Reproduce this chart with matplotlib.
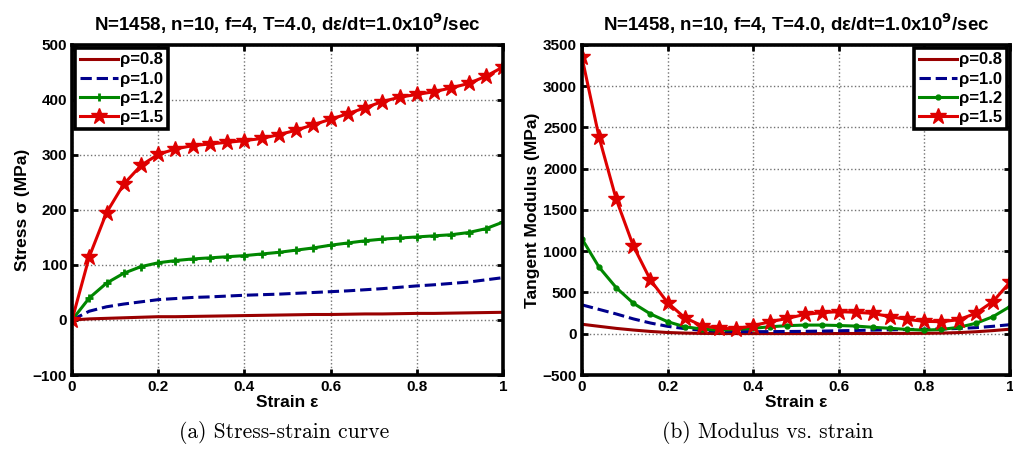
import matplotlib
matplotlib.use("Agg")
import matplotlib.pyplot as plt
import numpy as np

# strain sampled every 0.04
strain = [0.00, 0.04, 0.08, 0.12, 0.16, 0.20, 0.24, 0.28, 0.32, 0.36, 0.40, 0.44, 0.48,
          0.52, 0.56, 0.60, 0.64, 0.68, 0.72, 0.76, 0.80, 0.84, 0.88, 0.92, 0.96, 1.00]

# stress (MPa)
stress_08 = [0, 2, 3, 4, 5, 6, 6, 6.5, 7, 7.5, 8, 8.5, 9, 9.5, 10, 10, 10.5, 11, 11, 11.5,
             12, 12, 12.5, 13, 13.5, 14]
stress_10 = [0, 16, 24, 29, 33, 37, 39, 41, 42, 43.5, 45, 46, 47, 48.5, 50, 51.5, 53, 55,
             57, 59.5, 62, 64, 66.5, 69, 73, 77]
stress_12 = [0, 40, 67, 85, 97, 104, 108, 111, 113, 115, 117, 120, 123, 127, 131, 136, 140,
             144, 147, 149, 151, 153, 155, 159, 166, 178]
stress_15 = [0, 115, 195, 247, 281, 301, 311, 317, 320, 323, 326, 330, 337, 345, 355, 365,
             375, 386, 397, 405, 410, 415, 422, 430, 443, 460]

# tangent modulus (MPa)
mod_08 = [115, 90, 65, 45, 28, 15, 8, 4, 3, 2, 2, 2, 2, 2, 2, 3, 3, 3, 4, 4, 5, 8, 14, 24,
          38, 55]
mod_10 = [350, 295, 240, 180, 130, 90, 62, 42, 32, 27, 25, 26, 27, 29, 32, 36, 40, 44, 48,
          51, 55, 58, 64, 74, 90, 110]
mod_12 = [1150, 806, 559, 370, 240, 146, 85, 57, 42, 52, 66, 85, 98, 105, 105, 100, 93, 78,
          66, 52, 44, 52, 78, 126, 206, 330]
mod_15 = [3350, 2380, 1630, 1064, 652, 377, 195, 98, 66, 60, 98, 146, 186, 234, 255, 268,
          260, 247, 206, 174, 150, 146, 170, 247, 389, 625]

labels = ["\u03c1=0.8", "\u03c1=1.0", "\u03c1=1.2", "\u03c1=1.5"]
title = "N=1458, n=10, f=4, T=4.0, d\u03b5/dt=1.0x10$^{9}$/sec"

c08 = (0.6, 0.0, 0.0)
c10 = (0.0, 0.0, 0.55)
c12 = (0.0, 0.53, 0.0)
c15 = (0.87, 0.0, 0.0)

plt.rcParams['font.family'] = ['Liberation Sans', 'DejaVu Sans']
plt.rcParams['font.weight'] = 'bold'
plt.rcParams['mathtext.default'] = 'bf'

fig = plt.figure(figsize=(10.13, 4.54), dpi=100)
ax1 = fig.add_axes([0.0711, 0.174, 0.4255, 0.727])
ax2 = fig.add_axes([0.5745, 0.174, 0.4225, 0.727])


def style(ax):
  for s in ax.spines.values():
    s.set_linewidth(2.6)
  ax.tick_params(direction="in", width=2, length=4, labelsize=11, top=True, right=True)
  for lab in ax.get_xticklabels() + ax.get_yticklabels():
    lab.set_fontweight("bold")
  ax.grid(True, linestyle=":", color="0.45", linewidth=1.0)
  ax.set_xlim(0, 1)
  ax.set_xticks([0, 0.2, 0.4, 0.6, 0.8, 1.0])
  ax.set_xticklabels(["0", "0.2", "0.4", "0.6", "0.8", "1"])
  ax.set_xlabel("Strain \u03b5", fontsize=12.5, fontweight="bold", labelpad=1)
  ax.set_title(title, fontsize=13.5, fontweight="bold", pad=10)


def legend(ax, loc):
  leg = ax.legend(loc=loc, fontsize=12, handlelength=2.3, handletextpad=0.15,
                  borderpad=0.25, labelspacing=0.25, fancybox=False, framealpha=1,
                  edgecolor="black", borderaxespad=0.2)
  leg.get_frame().set_linewidth(2.6)


# (a) stress-strain
ax1.plot(strain, stress_08, color=c08, lw=2.2, label=labels[0])
ax1.plot(strain, stress_10, color=c10, lw=2.2, ls="--", label=labels[1])
ax1.plot(strain, stress_12, color=c12, lw=2.2, marker="+", ms=6, mew=2, label=labels[2])
ax1.plot(strain, stress_15, color=c15, lw=2.2, marker="*", ms=12, label=labels[3])
ax1.set_ylim(-100, 500)
ax1.set_yticks(range(-100, 501, 100))
ax1.set_ylabel("Stress \u03c3 (MPa)", fontsize=12.5, fontweight="bold", labelpad=2)
style(ax1)
legend(ax1, "upper left")

# (b) modulus vs strain
ax2.plot(strain, mod_08, color=c08, lw=2.2, label=labels[0])
ax2.plot(strain, mod_10, color=c10, lw=2.2, ls="--", label=labels[1])
ax2.plot(strain, mod_12, color=c12, lw=2.2, marker=".", ms=7, label=labels[2])
ax2.plot(strain, mod_15, color=c15, lw=2.2, marker="*", ms=12, label=labels[3])
ax2.set_ylim(-500, 3500)
ax2.set_yticks(range(-500, 3501, 500))
ax2.set_ylabel("Tangent Modulus (MPa)", fontsize=12.5, fontweight="bold", labelpad=2)
style(ax2)
legend(ax2, "upper right")

fig.text(0.28, 0.048, "(a) Stress-strain curve", fontsize=15.5, fontfamily="cmr10",
         fontweight="normal", ha="center", va="center")
fig.text(0.758, 0.048, "(b) Modulus vs. strain", fontsize=15.5, fontfamily="cmr10",
         fontweight="normal", ha="center", va="center")

fig.savefig("out.png", dpi=100)
